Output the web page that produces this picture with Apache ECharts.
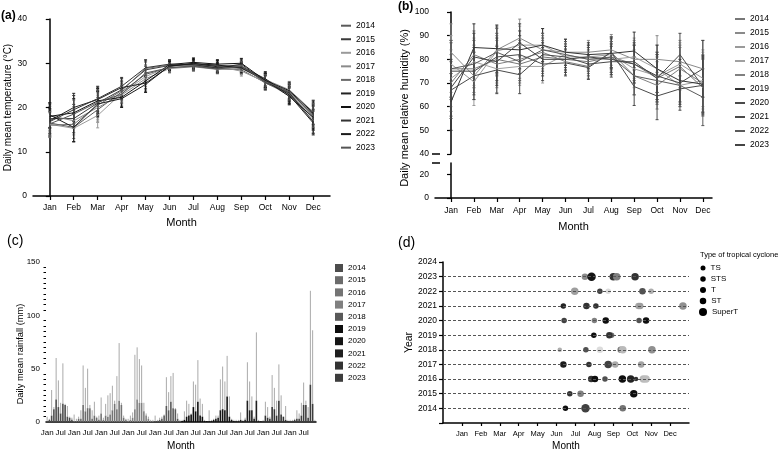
<!DOCTYPE html>
<html>
<head>
<meta charset="utf-8">
<script src="https://cdn.jsdelivr.net/npm/echarts@6/dist/echarts.min.js"></script>
<style>
  html, body { margin: 0; padding: 0; background: #fff; }
  #main { width: 780px; height: 452px; }
</style>
</head>
<body>
<div id="main"></div>
<script>
var dom = document.getElementById('main');
var chart = echarts.init(dom);

// ---- data ----
var months = ['Jan', 'Feb', 'Mar', 'Apr', 'May', 'Jun', 'Jul', 'Aug', 'Sep', 'Oct', 'Nov', 'Dec'];
var years = [2014, 2015, 2016, 2017, 2018, 2019, 2020, 2021, 2022, 2023];

// (a) daily mean temperature, one row per year
var tempMean = [
  [16.5, 15.5, 19.5, 23.5, 27.5, 29.0, 29.4, 28.8, 28.5, 25.6, 23.0, 17.5],
  [17.5, 17.5, 21.0, 24.0, 28.5, 29.5, 29.6, 29.0, 29.0, 26.0, 23.5, 18.5],
  [16.2, 15.3, 18.2, 23.2, 27.0, 29.2, 29.8, 29.3, 28.2, 25.8, 22.6, 17.0],
  [18.2, 17.0, 20.0, 22.8, 26.5, 28.8, 29.2, 28.6, 28.8, 26.3, 24.0, 19.0],
  [16.0, 16.2, 20.5, 23.8, 28.8, 29.6, 29.5, 29.5, 29.5, 25.5, 23.2, 18.0],
  [17.0, 20.0, 21.8, 24.5, 25.5, 29.3, 30.0, 29.2, 29.2, 26.5, 22.8, 16.5],
  [18.0, 18.8, 21.5, 22.3, 26.0, 29.7, 30.2, 29.8, 30.0, 26.1, 23.8, 18.8],
  [16.8, 19.5, 22.0, 24.8, 29.0, 29.8, 29.7, 28.9, 29.8, 25.7, 23.3, 16.8],
  [18.3, 15.5, 20.8, 22.0, 25.2, 29.4, 29.9, 29.6, 28.9, 26.2, 22.5, 17.8],
  [16.3, 18.5, 21.2, 23.0, 27.8, 29.0, 29.3, 28.7, 29.3, 25.9, 23.6, 18.2]
];
var tempSd = [2.8, 3.2, 2.8, 2.0, 1.8, 1.0, 1.0, 1.0, 1.1, 1.6, 1.9, 2.7];

// (b) daily mean relative humidity, one row per year
var humMean = [
  [76, 76, 80, 78, 81, 80, 79, 81, 78, 72, 77, 68],
  [83, 73, 84, 89, 84, 83, 83, 84, 80, 80, 79, 76],
  [78, 70.5, 83.5, 86, 86, 81, 81, 82, 76, 73, 78, 72],
  [72, 79, 76, 77, 77, 82, 80, 80, 81, 76, 69, 71],
  [70, 82, 78, 80, 83, 79, 77, 83, 73, 69, 76, 70],
  [62, 85, 84.5, 84, 86, 83, 82, 82.5, 83.5, 76, 71, 69.5],
  [67, 73, 75.5, 73.5, 82, 81, 78, 79, 79, 72, 82, 68.5],
  [75, 75, 81, 82, 78, 78.5, 76.5, 83, 68.5, 64.5, 67.5, 69],
  [76, 78, 83, 79, 84, 82, 80, 81, 73, 71, 69, 64],
  [68, 81, 79, 87, 80, 80, 81, 80, 78, 73, 70, 76]
];
var humSd = [12, 10, 10, 8, 7, 5.5, 5, 6.5, 8, 10, 9, 12];

// (c) daily mean rainfall, one row per year
var rainMean = [
  [1, 2, 6, 12, 21, 14, 8, 17, 16, 5, 4, 2],
  [1, 1, 3, 3, 16, 10, 13, 13, 3, 6, 4, 2],
  [8, 2, 6, 5, 7, 11, 17, 12, 20, 16, 4, 2],
  [1, 2, 4, 12, 21, 18, 18, 10, 6, 3, 1, 1],
  [1, 1, 2, 3, 6, 15, 11, 19, 13, 12, 3, 1],
  [1, 2, 5, 6, 7, 14, 10, 19, 6, 5, 1, 1],
  [1, 1, 2, 3, 4, 11, 12, 11, 24, 5, 2, 1],
  [1, 1, 2, 1, 2, 20, 11, 11, 3, 20, 1, 1],
  [1, 6, 4, 3, 14, 12, 6, 20, 7, 5, 2, 1],
  [1, 1, 2, 3, 3, 6, 16, 16, 4, 35, 17, 1]
];
var rainSd = [
  [4, 1, 24, 2, 39, 25, 10, 38, 1, 10, 1, 2],
  [6, 2, 2, 8, 37, 22, 37, 3, 8, 13, 1, 4],
  [15, 2, 11, 20, 20, 23, 3, 31, 54, 2, 2, 1],
  [2, 4, 5, 51, 49, 41, 35, 8, 2, 2, 1, 1],
  [5, 1, 2, 2, 1, 27, 17, 24, 33, 1, 5, 1],
  [1, 8, 15, 11, 1, 24, 25, 39, 16, 12, 1, 0],
  [10, 1, 1, 3, 2, 29, 40, 27, 38, 19, 1, 1],
  [1, 1, 7, 1, 2, 36, 27, 13, 2, 64, 1, 0],
  [1, 13, 10, 2, 30, 20, 14, 34, 18, 0, 13, 1],
  [1, 1, 1, 8, 5, 12, 21, 4, 10, 88, 69, 1]
];

// (d) tropical cyclones: [month (Jan = 1), year, type index, shade]
var cycloneTypes = ['TS', 'STS', 'T', 'ST', 'SuperT'];
var cyclones = [
  [7.5, 2023, 2, 60], [7.85, 2023, 4, 8], [9.0, 2023, 3, 22], [9.18, 2023, 3, 55], [10.15, 2023, 3, 22],
  [6.96, 2022, 3, 68], [8.29, 2022, 1, 28], [8.73, 2022, 1, 95], [10.54, 2022, 2, 35], [11.0, 2022, 1, 75],
  [6.36, 2021, 1, 15], [7.58, 2021, 2, 22], [8.08, 2021, 1, 22], [10.33, 2021, 2, 72], [10.42, 2021, 2, 68], [12.68, 2021, 3, 62],
  [6.4, 2020, 1, 28], [8.0, 2020, 1, 55], [8.6, 2020, 2, 6], [10.36, 2020, 1, 35], [10.73, 2020, 2, 6],
  [7.97, 2019, 1, 6], [8.79, 2019, 2, 22], [8.91, 2019, 1, 48],
  [6.17, 2018, 0, 75], [7.55, 2018, 1, 35], [8.29, 2018, 2, 95], [9.39, 2018, 2, 55], [9.5, 2018, 3, 80], [11.04, 2018, 3, 62],
  [6.36, 2017, 2, 12], [7.71, 2017, 1, 22], [8.73, 2017, 3, 28], [9.1, 2017, 2, 73], [10.47, 2017, 2, 70],
  [7.83, 2016, 2, 22], [8.03, 2016, 2, 6], [8.56, 2016, 1, 35], [9.48, 2016, 3, 6], [9.92, 2016, 3, 15], [10.2, 2016, 0, 22], [10.59, 2016, 3, 80], [10.73, 2016, 3, 82],
  [6.7, 2015, 1, 22], [7.27, 2015, 2, 55], [10.08, 2015, 3, 6],
  [6.47, 2014, 1, 6], [7.53, 2014, 4, 28], [9.5, 2014, 2, 50]
];

// ---- styles ----
var tempColors = ['#5a5a5a', '#3a3a3a', '#9a9a9a', '#8a8a8a', '#6a6a6a', '#222', '#111', '#333', '#1a1a1a', '#555'];
var humColors = ['#777', '#8a8a8a', '#9a9a9a', '#a0a0a0', '#808080', '#333', '#4a4a4a', '#4a4a4a', '#5a5a5a', '#444'];
var rainColors = ['#4d4d4d', '#6b6b6b', '#747474', '#808080', '#595959', '#0d0d0d', '#151515', '#1f1f1f', '#333', '#3d3d3d'];
var typeSizes = [4.5, 5.5, 6.5, 7.5, 8.5];
var legendSizes = [5, 5.5, 6, 6.5, 8];
var font = 'Liberation Sans, Arial, sans-serif';
var monthIdx = months.map(function (m, i) { return i; });
var monthNum = months.map(function (m, i) { return i + 1; });

var rainCats = [];
years.forEach(function (y) {
  months.forEach(function (m) { rainCats.push(m + ' ' + y); });
});

function axisBase(extra) {
  var o = {
    axisLine: { lineStyle: { color: '#000', width: 1.5 } },
    axisTick: { length: 4, lineStyle: { color: '#000', width: 1.2 } },
    axisLabel: { color: '#000', fontSize: 8.5, fontFamily: font },
    splitLine: { show: false },
    nameTextStyle: { color: '#000', fontSize: 11, fontFamily: font }
  };
  for (var k in extra) {
    if (typeof extra[k] === 'object' && !Array.isArray(extra[k]) && o[k]) {
      for (var j in extra[k]) o[k][j] = extra[k][j];
    } else {
      o[k] = extra[k];
    }
  }
  return o;
}

function errorBar(params, api) {
  var x = api.value(0);
  var p1 = api.coord([x, api.value(1)]);
  var p2 = api.coord([x, api.value(2)]);
  var c = api.visual('color');
  var st = { stroke: c, lineWidth: 1 };
  return {
    type: 'group',
    children: [
      { type: 'line', shape: { x1: p1[0], y1: p1[1], x2: p2[0], y2: p2[1] }, style: st },
      { type: 'line', shape: { x1: p1[0] - 1.5, y1: p1[1], x2: p1[0] + 1.5, y2: p1[1] }, style: st },
      { type: 'line', shape: { x1: p2[0] - 1.5, y1: p2[1], x2: p2[0] + 1.5, y2: p2[1] }, style: st }
    ]
  };
}

function rainLine(params, api) {
  var x = api.value(0);
  var p1 = api.coord([x, api.value(1)]);
  var p2 = api.coord([x, api.value(2)]);
  return {
    type: 'line',
    shape: { x1: p1[0], y1: p1[1], x2: p2[0], y2: p2[1] },
    style: { stroke: '#aaa', lineWidth: 1 }
  };
}

var series = [];

// (a)
years.forEach(function (y, i) {
  series.push({
    type: 'line', name: 'a' + y, xAxisIndex: 0, yAxisIndex: 0,
    data: tempMean[i].map(function (v, m) { return [m, v]; }),
    symbol: 'none', lineStyle: { width: 1, color: tempColors[i] },
    itemStyle: { color: tempColors[i] }, z: 3
  });
});
var errA = [];
years.forEach(function (y, i) {
  tempMean[i].forEach(function (v, m) {
    errA.push({ value: [m, v - tempSd[m], v + tempSd[m]], itemStyle: { color: tempColors[i] } });
  });
});
series.push({ type: 'custom', xAxisIndex: 0, yAxisIndex: 0, renderItem: errorBar, data: errA, z: 2, silent: true });

// (b)
years.forEach(function (y, i) {
  series.push({
    type: 'line', name: 'b' + y, xAxisIndex: 1, yAxisIndex: 1,
    data: humMean[i].map(function (v, m) { return [m, v]; }),
    symbol: 'none', lineStyle: { width: 1, color: humColors[i] },
    itemStyle: { color: humColors[i] }, z: 3
  });
});
var errB = [];
years.forEach(function (y, i) {
  humMean[i].forEach(function (v, m) {
    errB.push({ value: [m, v - humSd[m], v + humSd[m]], itemStyle: { color: humColors[i] } });
  });
});
series.push({ type: 'custom', xAxisIndex: 1, yAxisIndex: 1, renderItem: errorBar, data: errB, z: 2, silent: true });

// (c)
years.forEach(function (y, i) {
  series.push({
    type: 'bar', name: 'c' + y, xAxisIndex: 3, yAxisIndex: 3,
    barWidth: 1.6, barGap: '-100%',
    data: rainCats.map(function (c, k) {
      return Math.floor(k / 12) === i ? rainMean[i][k % 12] : '-';
    }),
    itemStyle: { color: rainColors[i] }, z: 3
  });
});
var errC = [];
years.forEach(function (y, i) {
  rainMean[i].forEach(function (v, m) {
    errC.push([i * 12 + m, v, v + rainSd[i][m]]);
  });
});
series.push({ type: 'custom', xAxisIndex: 3, yAxisIndex: 3, renderItem: rainLine, data: errC, z: 2, silent: true });

// (d)
series.push({
  type: 'scatter', xAxisIndex: 4, yAxisIndex: 4, data: [], silent: true, z: 1,
  markLine: {
    silent: true, symbol: ['none', 'none'], label: { show: false },
    lineStyle: { type: [3, 2], color: '#555', width: 1 },
    data: years.map(function (y) { return { yAxis: y }; })
  }
});
cycloneTypes.forEach(function (t, ti) {
  series.push({
    type: 'scatter', name: t, xAxisIndex: 4, yAxisIndex: 4,
    symbolSize: typeSizes[ti],
    data: cyclones.filter(function (c) { return c[2] === ti; }),
    itemStyle: { opacity: 1 }, z: 3
  });
});

var legends = [
  {
    data: years.map(function (y) { return 'a' + y; }), formatter: function (n) { return n.slice(1); },
    orient: 'vertical', left: 341, top: 19.7, itemWidth: 10, itemHeight: 2, icon: 'rect',
    itemGap: 1.55, padding: 0, selectedMode: false,
    textStyle: { fontSize: 8.5, lineHeight: 12, color: '#000', fontFamily: font }
  },
  {
    data: years.map(function (y) { return 'b' + y; }), formatter: function (n) { return n.slice(1); },
    orient: 'vertical', left: 735, top: 13, itemWidth: 10, itemHeight: 2, icon: 'rect',
    itemGap: 2, padding: 0, selectedMode: false,
    textStyle: { fontSize: 8.5, lineHeight: 12, color: '#000', fontFamily: font }
  },
  {
    data: years.map(function (y) { return 'c' + y; }), formatter: function (n) { return n.slice(1); },
    orient: 'vertical', left: 335, top: 262.5, itemWidth: 8, itemHeight: 8, icon: 'rect',
    itemGap: 1.2, padding: 0, selectedMode: false,
    textStyle: { fontSize: 8, lineHeight: 11, color: '#000', fontFamily: font }
  }
];
var legendY = [268, 279, 290, 301, 312];
cycloneTypes.forEach(function (t, ti) {
  legends.push({
    data: [t], icon: 'circle', left: 703 - legendSizes[ti] / 2, top: legendY[ti] - 5,
    itemWidth: legendSizes[ti], itemHeight: legendSizes[ti], itemGap: 0, padding: 0,
    selectedMode: false, itemStyle: { color: '#000' },
    textStyle: { fontSize: 8, lineHeight: 10, color: '#000', fontFamily: font }
  });
});

var option = {
  animation: false,
  backgroundColor: '#fff',
  textStyle: { fontFamily: font, color: '#000' },
  title: [
    { text: '(a)', left: 1, top: 10, padding: 0, textStyle: { fontSize: 12, fontWeight: 'bold', color: '#000', fontFamily: font } },
    { text: '(b)', left: 398, top: 1, padding: 0, textStyle: { fontSize: 12, fontWeight: 'bold', color: '#000', fontFamily: font } },
    { text: '(c)', left: 7, top: 234, padding: 0, textStyle: { fontSize: 14, fontWeight: 'normal', color: '#000', fontFamily: font } },
    { text: '(d)', left: 398, top: 236, padding: 0, textStyle: { fontSize: 14, fontWeight: 'normal', color: '#000', fontFamily: font } },
    { text: 'Type of tropical cyclone', left: 700, top: 251, padding: 0, textStyle: { fontSize: 7.5, fontWeight: 'normal', color: '#000', fontFamily: font } }
  ],
  legend: legends,
  visualMap: {
    show: false, type: 'continuous', dimension: 3, min: 0, max: 100,
    seriesIndex: cycloneTypes.map(function (t, ti) { return series.length - cycloneTypes.length + ti; }),
    inRange: { color: ['#000000', '#e8e8e8'] }
  },
  grid: [
    { left: 33, top: 19, width: 297, height: 177 },
    { left: 435, top: 12, width: 277, height: 142 },
    { left: 435, top: 163, width: 277, height: 35 },
    { left: 46, top: 262, width: 270, height: 161 },
    { left: 443, top: 262, width: 246, height: 163 }
  ],
  xAxis: [
    axisBase({
      type: 'value', gridIndex: 0, min: -0.7, max: 11.7,
      axisTick: { customValues: monthIdx },
      axisLabel: { customValues: monthIdx, margin: 7.5, formatter: function (v) { return months[Math.round(v)]; } },
      name: 'Month', nameLocation: 'middle', nameGap: 21, nameTextStyle: { fontSize: 11 }
    }),
    { type: 'value', gridIndex: 1, min: -0.7, max: 11.4, show: false, splitLine: { show: false } },
    axisBase({
      type: 'value', gridIndex: 2, min: -0.7, max: 11.4,
      axisTick: { customValues: monthIdx },
      axisLabel: { customValues: monthIdx, margin: 8, formatter: function (v) { return months[Math.round(v)]; } },
      name: 'Month', nameLocation: 'middle', nameGap: 23, nameTextStyle: { fontSize: 11 }
    }),
    axisBase({
      type: 'category', gridIndex: 3, data: rainCats, boundaryGap: true,
      axisTick: { alignWithLabel: true, interval: function (i) { return i % 6 === 0; } },
      axisLabel: { fontSize: 8, margin: 7, interval: function (i) { return i % 6 === 0; }, formatter: function (v) { return v.split(' ')[0]; } },
      name: 'Month', nameLocation: 'middle', nameGap: 19, nameTextStyle: { fontSize: 10 }
    }),
    axisBase({
      type: 'value', gridIndex: 4, min: 0, max: 13,
      axisTick: { customValues: monthNum, length: 3 },
      axisLabel: { customValues: monthNum, fontSize: 7.5, margin: 7, formatter: function (v) { return months[Math.round(v) - 1]; } },
      name: 'Month', nameLocation: 'middle', nameGap: 18, nameTextStyle: { fontSize: 10 }
    })
  ],
  yAxis: [
    axisBase({
      type: 'value', gridIndex: 0, min: 0, max: 40, interval: 10,
      axisLabel: { margin: 6 },
      name: 'Daily mean temperature (°C)', nameLocation: 'middle', nameGap: 18, nameTextStyle: { fontSize: 10 }
    }),
    axisBase({
      type: 'value', gridIndex: 1, min: 40, max: 100, interval: 10,
      axisLabel: { margin: 6 }
    }),
    axisBase({
      type: 'value', gridIndex: 2, min: 0, max: 30,
      axisTick: { customValues: [0, 20] },
      axisLabel: { margin: 6, customValues: [0, 20] }
    }),
    axisBase({
      type: 'value', gridIndex: 3, min: 0, max: 150, interval: 50,
      minorTick: { show: true, splitNumber: 10, length: 2.5, lineStyle: { color: '#000', width: 1 } },
      axisLabel: { margin: 6, fontSize: 8 }
    }),
    axisBase({
      type: 'value', gridIndex: 4, min: 2013, max: 2024, interval: 1,
      axisLabel: { margin: 6, fontSize: 8.5, formatter: function (v) { return v === 2013 ? '' : String(v); } },
      name: 'Year', nameLocation: 'middle', nameGap: 27, nameTextStyle: { fontSize: 10.5 }
    })
  ],
  graphic: [
    {
      type: 'text', x: 405, y: 108, rotation: Math.PI / 2,
      style: { text: 'Daily mean relative humidity (%)', fontSize: 11, fontFamily: font, fill: '#000', align: 'center', verticalAlign: 'middle' }
    },
    {
      type: 'text', x: 20, y: 354, rotation: Math.PI / 2,
      style: { text: 'Daily mean rainfall (mm)', fontSize: 9.3, fontFamily: font, fill: '#000', align: 'center', verticalAlign: 'middle' }
    },
    { type: 'line', shape: { x1: 432, y1: 154, x2: 440, y2: 154 }, style: { stroke: '#000', lineWidth: 1.5 } },
    { type: 'line', shape: { x1: 432, y1: 163, x2: 440, y2: 163 }, style: { stroke: '#000', lineWidth: 1.5 } }
  ],
  series: series
};

chart.setOption(option);
window.addEventListener('resize', function () {
  chart.resize();
});
</script>
</body>
</html>
